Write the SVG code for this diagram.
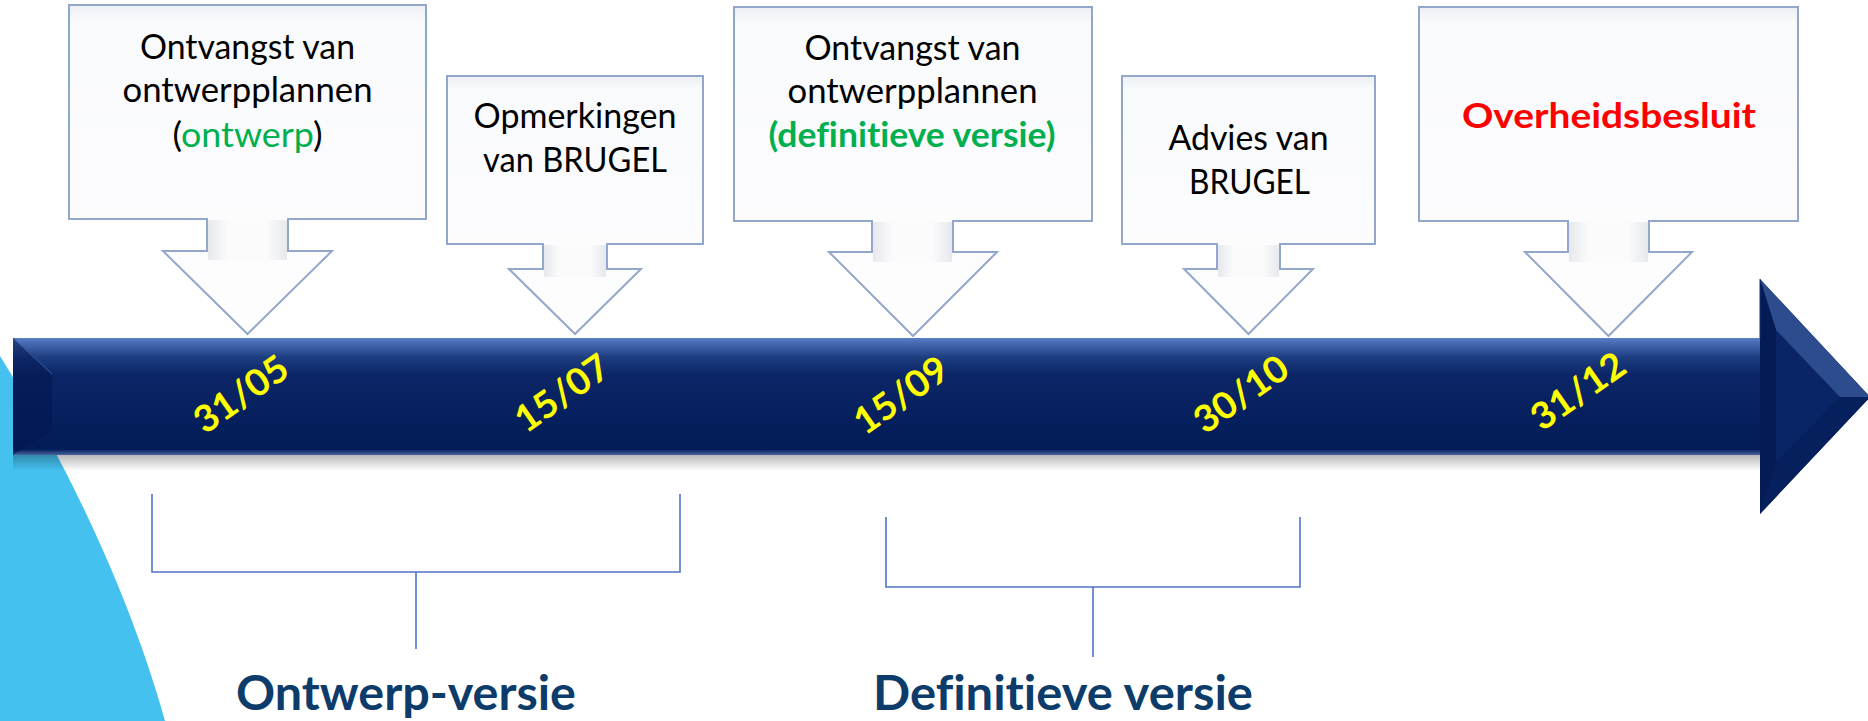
<svg xmlns="http://www.w3.org/2000/svg" width="1868" height="721" viewBox="0 0 1868 721">
  <defs>
    <linearGradient id="barGrad" gradientUnits="userSpaceOnUse" x1="0" y1="338" x2="0" y2="455">
      <stop offset="0" stop-color="#5a7ec4"/>
      <stop offset="0.05" stop-color="#4468b0"/>
      <stop offset="0.17" stop-color="#1d3c80"/>
      <stop offset="0.32" stop-color="#0b2566"/>
      <stop offset="0.7" stop-color="#06205e"/>
      <stop offset="0.95" stop-color="#021c5a"/>
      <stop offset="1" stop-color="#4a64a0"/>
    </linearGradient>
    <linearGradient id="shadowGrad" x1="0" y1="0" x2="0" y2="1">
      <stop offset="0" stop-color="#000" stop-opacity="0.28"/>
      <stop offset="1" stop-color="#000" stop-opacity="0"/>
    </linearGradient>
    <linearGradient id="boxGrad" x1="0" y1="0" x2="0" y2="1">
      <stop offset="0" stop-color="#eceff4"/>
      <stop offset="0.05" stop-color="#f9fafc"/>
      <stop offset="1" stop-color="#fdfdfe"/>
    </linearGradient>
    <linearGradient id="stemGrad" x1="0" y1="0" x2="1" y2="0">
      <stop offset="0" stop-color="#e6e8ed"/>
      <stop offset="0.25" stop-color="#fbfbfc"/>
      <stop offset="0.75" stop-color="#fbfbfc"/>
      <stop offset="1" stop-color="#e6e8ed"/>
    </linearGradient>
    <style>
      .callout { fill: url(#boxGrad); stroke: #93a7ca; stroke-width: 2; stroke-linejoin: miter; }
      .stem { fill: url(#stemGrad); }
      .txt { font-family: "Lato", "Liberation Sans", sans-serif; font-size: 34px; fill: #000; text-anchor: middle; font-variant-ligatures: none; }
      .bold { font-weight: bold; }
      .green { fill: #00b050; }
      .red { fill: #ff0000; }
      .date { font-family: "Lato", "Liberation Sans", sans-serif; font-size: 37px; font-weight: bold; fill: #ffff00; text-anchor: middle; }
      .bracket { fill: none; stroke: #4f74c8; stroke-width: 1.6; }
      .label { font-family: "Lato", "Liberation Sans", sans-serif; font-size: 47px; font-weight: bold; fill: #0d3c6b; text-anchor: middle; font-variant-ligatures: none; }
    </style>
  </defs>

  <rect x="0" y="0" width="1868" height="721" fill="#ffffff"/>

  <!-- background cyan shape -->
  <path d="M0,356 C40,420 120,560 165,721 L0,721 Z" fill="#45c1f0"/>

  <!-- timeline arrow -->
  <g id="timeline">
    <rect x="13" y="455" width="1750" height="16" fill="url(#shadowGrad)"/>
    <rect x="13" y="338" width="1750" height="117" fill="url(#barGrad)"/>
    <polygon points="13,338 52,374 52,430 13,455" fill="#021650" opacity="0.55"/>
    <line x1="13" y1="338" x2="52" y2="374" stroke="#3c5c9e" stroke-width="1"/>
    <polygon points="1760,279 1870,397 1760,514" fill="#0a2566"/>
    <polygon points="1760,279 1870,397 1840,397 1776,330" fill="#2d4c8e"/>
    <polygon points="1760,279 1776,330 1776,462 1760,514" fill="#041b55"/>
    <polygon points="1776,462 1840,397 1870,397 1760,514" fill="#06205e"/>
    <line x1="1760" y1="279" x2="1760" y2="338" stroke="#1a3570" stroke-width="1"/>
  </g>

  <!-- dates -->
  <g id="dates">
    <text class="date" transform="translate(241,394) rotate(-35)" x="0" y="13" textLength="106" lengthAdjust="spacingAndGlyphs">31/05</text>
    <text class="date" transform="translate(562,393) rotate(-35)" x="0" y="13" textLength="106" lengthAdjust="spacingAndGlyphs">15/07</text>
    <text class="date" transform="translate(901,395) rotate(-35)" x="0" y="13" textLength="106" lengthAdjust="spacingAndGlyphs">15/09</text>
    <text class="date" transform="translate(1241,394) rotate(-35)" x="0" y="13" textLength="106" lengthAdjust="spacingAndGlyphs">30/10</text>
    <text class="date" transform="translate(1578,391) rotate(-35)" x="0" y="13" textLength="106" lengthAdjust="spacingAndGlyphs">31/12</text>
  </g>

  <!-- callouts -->
  <g id="callout-1">
    <path class="callout" d="M69,5 H426 V219 H288 V251 H332 L247.5,334 L163,251 H207 V219 H69 Z"/>
    <rect class="stem" x="208" y="220" width="79" height="40"/>
    <text class="txt" x="247.5" y="59" textLength="215" lengthAdjust="spacingAndGlyphs">Ontvangst van</text>
    <text class="txt" x="247.5" y="102" textLength="250" lengthAdjust="spacingAndGlyphs">ontwerpplannen</text>
    <text class="txt" x="247.5" y="147" textLength="150" lengthAdjust="spacingAndGlyphs">(<tspan class="green">ontwerp</tspan>)</text>
  </g>

  <g id="callout-2">
    <path class="callout" d="M447,76 H703 V244 H607 V269 H641 L575,334 L509,269 H543 V244 H447 Z"/>
    <rect class="stem" x="544" y="245" width="62" height="32"/>
    <text class="txt" x="575" y="128" textLength="203" lengthAdjust="spacingAndGlyphs">Opmerkingen</text>
    <text class="txt" x="575" y="172" textLength="184" lengthAdjust="spacingAndGlyphs">van BRUGEL</text>
  </g>

  <g id="callout-3">
    <path class="callout" d="M734,7 H1092 V221 H953 V252 H997 L913,336 L829,252 H872 V221 H734 Z"/>
    <rect class="stem" x="873" y="222" width="79" height="40"/>
    <text class="txt" x="912.5" y="60" textLength="216" lengthAdjust="spacingAndGlyphs">Ontvangst van</text>
    <text class="txt" x="912.5" y="103" textLength="250" lengthAdjust="spacingAndGlyphs">ontwerpplannen</text>
    <text class="txt bold green" x="912" y="147" textLength="287" lengthAdjust="spacingAndGlyphs">(definitieve versie)</text>
  </g>

  <g id="callout-4">
    <path class="callout" d="M1122,76 H1375 V244 H1280 V269 H1313 L1248.5,334 L1184,269 H1217 V244 H1122 Z"/>
    <rect class="stem" x="1218" y="245" width="61" height="32"/>
    <text class="txt" x="1248.5" y="150" textLength="160" lengthAdjust="spacingAndGlyphs">Advies van</text>
    <text class="txt" x="1249.5" y="194" textLength="121" lengthAdjust="spacingAndGlyphs">BRUGEL</text>
  </g>

  <g id="callout-5">
    <path class="callout" d="M1419,7 H1798 V221 H1649 V252 H1692 L1608.5,336 L1525,252 H1568 V221 H1419 Z"/>
    <rect class="stem" x="1569" y="222" width="79" height="40"/>
    <text class="txt bold red" x="1609" y="128" textLength="294" lengthAdjust="spacingAndGlyphs">Overheidsbesluit</text>
  </g>

  <!-- brackets -->
  <g id="connectors">
    <path class="bracket" d="M152,494 V572 H680 V494 M416,572 V649"/>
    <path class="bracket" d="M886,517 V587 H1300 V517 M1093,587 V657"/>
  </g>

  <g id="label-ontwerp">
    <text class="label" x="406" y="710" textLength="340" lengthAdjust="spacingAndGlyphs">Ontwerp-versie</text>
  </g>
  <g id="label-definitief">
    <text class="label" x="1063" y="710" textLength="380" lengthAdjust="spacingAndGlyphs">Definitieve versie</text>
  </g>
</svg>
